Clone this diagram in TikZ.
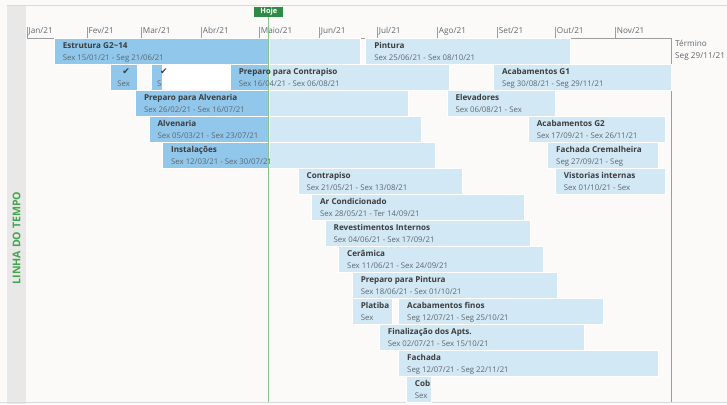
\documentclass[tikz,border=0pt]{standalone}
\usepackage{fontspec}
\setmainfont{Open Sans}
\newfontfamily\simbolos{DejaVu Sans}
\usetikzlibrary{positioning}
\definecolor{fundo}{HTML}{FCFAF8}
\definecolor{faixa}{HTML}{E8E8E8}
\definecolor{borda}{HTML}{DADADA}
\definecolor{barra}{HTML}{D2E8F5}
\definecolor{barraesc}{HTML}{90C7EB}
\definecolor{verde}{HTML}{2E8B45}
\definecolor{verdeclaro}{HTML}{86C58C}
\definecolor{verdetexto}{HTML}{45A54E}
\definecolor{eixo}{HTML}{9C9C9C}
\definecolor{tinta}{HTML}{3C3C3C}
\definecolor{cinza}{HTML}{5E6870}
\tikzset{every node/.style={inner sep=0pt,font=\fontsize{7.8}{9}\selectfont},
  tarefa/.style={fill=barra,draw=white,line width=.5pt},
  feita/.style={fill=barraesc,draw=white,line width=.5pt},
  nome/.style={anchor=base west,text=tinta,font=\fontsize{8.1}{9}\selectfont\bfseries},
  datas/.style={anchor=base west,text=cinza},
  mes/.style={anchor=base west,text=cinza,font=\fontsize{8.2}{9}\selectfont},
  visto/.style={anchor=base west,text=tinta,font=\simbolos\fontsize{9}{9}\selectfont},
  linhaeixo/.style={draw=eixo,line width=.6pt},
  hoje/.style={draw=verdeclaro,line width=1.1pt}}

\begin{document}
\begin{tikzpicture}[x=1pt,y=-1pt]
\useasboundingbox(0,0)rectangle(727,404);
\fill[fundo](0,0)rectangle(727,404);
\fill[faixa](7,5)rectangle(26,404);
\draw[borda,line width=.5pt](7,5)--(727,5);
\draw[borda,line width=.8pt](0,402.5)--(727,402.5);
\node[rotate=90,text=verdetexto,font=\fontsize{10.6}{11}\selectfont\bfseries](titulo)at(16.5,238){LINHA DO TEMPO};
% eixo dos meses
\begin{scope}[shift={(27,0)},x=1.935pt]
\foreach \dia/\mes in {0/Jan,31/Fev,59/Mar,90/Abr,120/Maio,151/Jun,181/Jul,212/Ago,243/Set,273/Out,304/Nov}{
  \draw[linhaeixo](\dia,27)--(\dia,38);
  \node[mes](m\dia)at([xshift=1.5pt]\dia,33.5){\mes/21};}
\end{scope}
\draw[linhaeixo](27,38)--(671,38)--(671,402);
\node[mes](termino)at(675,46.7){Término};
\node[mes](termdata)at([yshift=-12pt]termino.base west){Seg 29/11/21};
% barras
\begin{scope}[shift={(27,38)},x=1.935pt,y=-26pt]
\foreach \ini/\fim/\lin in {14/172/0,175/281/0,105/218/1,241/333/1,56/197/2,217/273/2,63/204/3,259/330/3,
  70/211/4,269/326/4,140/225/5,273/330/5,147/257/6,154/260/7,161/267/8,168/274/9,168/189/10,192/298/10,
  182/288/11,192/326/12,196/209/13}
  \draw[tarefa](\ini,\lin)rectangle(\fim,\lin+1);
\foreach \ini/\fim/\lin in {14/125/0,43/57/1,64/70/1,105/125/1,56/125/2,63/125/3,70/125/4}
  \draw[feita](\ini,\lin)rectangle(\fim,\lin+1);
\fill[white](70.2,1.02)rectangle(104.8,1.98);
\end{scope}
% hoje
\node[fill=verde,text=white,font=\fontsize{7.4}{8}\selectfont\bfseries,minimum width=29pt,minimum height=10.5pt](hojerotulo)at(268.9,12){Hoje};
\coordinate(fimhoje)at(268.9,402);
\draw[hoje](hojerotulo.south)--(fimhoje);
% textos
\begin{scope}[shift={(27,38)},x=1.935pt,y=-26pt]
\foreach \ini/\lin/\nome/\datas in {14/0/{Estrutura G2\textasciitilde14}/{Sex 15/01/21 - Seg 21/06/21},
  175/0/{Pintura}/{Sex 25/06/21 - Sex 08/10/21},
  105/1/{Preparo para Contrapiso}/{Sex 16/04/21 - Sex 06/08/21},
  241/1/{Acabamentos G1}/{Seg 30/08/21 - Seg 29/11/21},
  56/2/{Preparo para Alvenaria}/{Sex 26/02/21 - Sex 16/07/21},
  217/2/{Elevadores}/{Sex 06/08/21 - Sex},
  63/3/{Alvenaria}/{Sex 05/03/21 - Sex 23/07/21},
  259/3/{Acabamentos G2}/{Sex 17/09/21 - Sex 26/11/21},
  70/4/{Instalações}/{Sex 12/03/21 - Sex 30/07/21},
  269/4/{Fachada Cremalheira}/{Seg 27/09/21 - Seg},
  140/5/{Contrapiso}/{Sex 21/05/21 - Sex 13/08/21},
  273/5/{Vistorias internas}/{Sex 01/10/21 - Sex},
  147/6/{Ar Condicionado}/{Sex 28/05/21 - Ter 14/09/21},
  154/7/{Revestimentos Internos}/{Sex 04/06/21 - Sex 17/09/21},
  161/8/{Cerâmica}/{Sex 11/06/21 - Sex 24/09/21},
  168/9/{Preparo para Pintura}/{Sex 18/06/21 - Sex 01/10/21},
  168/10/{Platiba}/{Sex},
  192/10/{Acabamentos finos}/{Seg 12/07/21 - Seg 25/10/21},
  182/11/{Finalização dos Apts.}/{Sex 02/07/21 - Sex 15/10/21},
  192/12/{Fachada}/{Seg 12/07/21 - Seg 22/11/21},
  196/13/{Cob}/{Sex}}{
  \node[nome](n\lin-\ini)at([xshift=8.5pt,yshift=-10.3pt]\ini,\lin){\nome};
  \node[datas](d\lin-\ini)at([yshift=-12pt]n\lin-\ini.base west){\datas};}
\node[visto](v43)at([xshift=12pt,yshift=-10.8pt]43,1){✔};
\node[datas](s43)at([xshift=7pt,yshift=-22.3pt]43,1){Sex};
\node[visto](v64)at([xshift=9pt,yshift=-10.8pt]64,1){✔};
\node[datas](s64)at([xshift=6pt,yshift=-22.3pt]64,1){S};
\end{scope}
\end{tikzpicture}
\end{document}
